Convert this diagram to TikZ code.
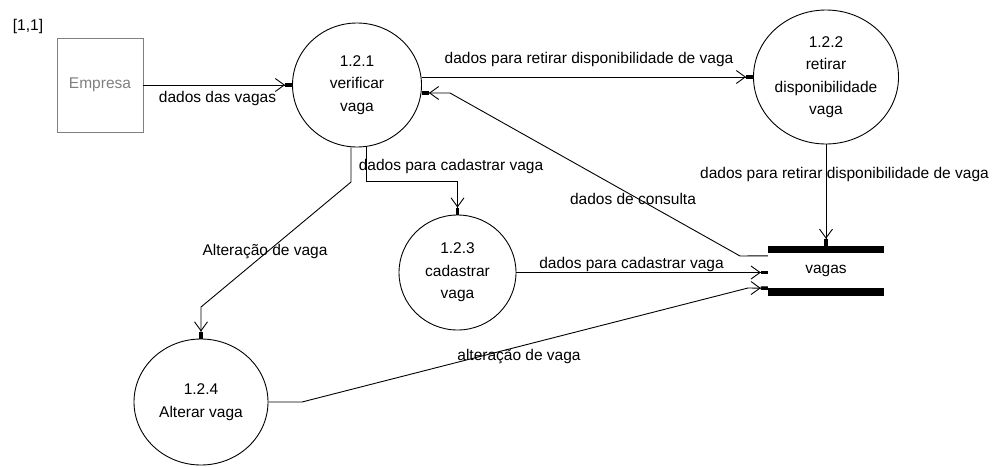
\documentclass[tikz,border=0pt]{standalone}
\usepackage{fontspec}
\setmainfont{Liberation Sans}
\usetikzlibrary{shapes.geometric,arrows.meta,calc}
\begin{document}
\begin{tikzpicture}[x=1pt,y=-1pt,
  every node/.style={font=\fontsize{15.5}{22.5}\selectfont},
  proc/.style={ellipse,draw,line width=0.9pt,inner sep=0pt,align=center},
  ext/.style={draw=gray,text=gray,line width=0.9pt,minimum width=86,minimum height=94,inner sep=0pt},
  store/.style={minimum width=116,minimum height=50,inner sep=0pt},
  flow/.style={draw,line width=0.9pt,-{Straight Barb[length=9pt,width=13pt,sep=0pt,line width=0.9pt]Square[length=7pt,width=3.5pt]}},
  lbl/.style={inner sep=0pt},
]
\useasboundingbox (0,0) rectangle (995,466);

% nodes
\node[ext] (emp) at (100,85) {Empresa};
\node[proc,minimum width=129,minimum height=124] (c121) at (357,85) {1.2.1\\verificar\\vaga};
\node[proc,minimum width=141,minimum height=134] (c122) at (826,77) {1.2.2\\retirar\\disponibilidade\\vaga};
\node[proc,minimum width=117,minimum height=115] (c123) at (457.5,272.5) {1.2.3\\cadastrar\\vaga};
\node[proc,minimum width=134,minimum height=126] (c124) at (201,402) {1.2.4\\Alterar vaga};
\node[store] (vagas) at (826,271) {vagas};
\fill (vagas.north west) rectangle ($(vagas.north east)+(0,7)$);
\fill ($(vagas.south west)+(0,-8)$) rectangle (vagas.south east);

% labels
\node[lbl] (l1) at (28,26) {[1,1]};
\node[lbl] (l2) at (217.5,98) {dados das vagas};
\node[lbl] (l3) at (589,59) {dados para retirar disponibilidade de vaga};
\node[lbl] (l4) at (844.5,174) {dados para retirar disponibilidade de vaga};
\node[lbl] (l5) at (633,199) {dados de consulta};
\node[lbl] (l6) at (451,166) {dados para cadastrar vaga};
\node[lbl] (l7) at (631.5,264) {dados para cadastrar vaga};
\node[lbl] (l8) at (265,252) {Alteração de vaga};
\node[lbl] (l9) at (519,357) {alteração de vaga};

% helper coordinates
\coordinate (k1) at (740,256);
\coordinate (k2) at (450,93);
\coordinate (a1) at (302,402);
\coordinate (a2) at (748,288);
\coordinate (j1) at (366,181);
\coordinate (j2) at (351,182);
\coordinate (j3) at (201,307);

% connectors
\draw[flow] (emp.east) -- (c121.west);
\draw[flow] (c121.east |- c122.west) -- (c122.west);
\draw[flow] ($(vagas.north west)+(0,10)$) -- (k1) -- (k2) -- (c121.east |- k2);
\draw[flow] (c122.south) -- (vagas.north);
\draw[flow] (c123.east) -- (c123.east -| vagas.west);
\draw[flow] (c124.east) -- (a1) -- (a2) -- ($(vagas.south west)+(0,-8)$);
\draw[flow] ($(c121.south)+(9,0)$) -- (j1) -| (c123.north);
\draw[flow] ($(c121.south)+(-6,0)$) -- (j2) -- (j3) -- (c124.north);
\end{tikzpicture}
\end{document}
